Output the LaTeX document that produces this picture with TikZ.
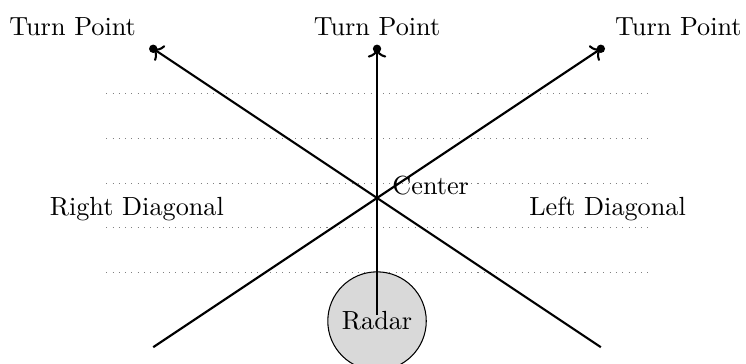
\documentclass[tikz,border=0pt]{standalone}
\usepackage{tikz}
\usetikzlibrary{arrows.meta,positioning,calc}

\begin{document}
\begin{tikzpicture}[thick, dot/.style={circle,fill,inner sep=0pt,minimum size=3.2pt}, guide/.style={dotted,thin,gray}]
  \useasboundingbox (-5.054,-2.225) rectangle (4.946,2.654);
  % range rings
  \foreach \y in {-1,-0.4,0.2,0.8,1.4} \draw[guide] (-3.63,\y) -- (3.63,\y);
  \node (radar) [circle,draw,thin,fill=gray!30,minimum size=1.32cm] at (0,-1.65) {Radar};
  \coordinate (bl) at (-3,-2); \coordinate (br) at (3,-2);
  \coordinate (tl) at (-3,2); \coordinate (tm) at (0,2); \coordinate (tr) at (3,2);
  \draw[->] (bl) -- (tr); \draw[->] (br) -- (tl);
  \draw[->] ($(radar.center)+(0,0.08)$) -- (tm);
  \node (tldot) [dot] at (tl) {}; \node (tmdot) [dot] at (tm) {}; \node (trdot) [dot] at (tr) {};
  \node (tltext) at (-4.08,2.3) {Turn Point};
  \node (tmtext) at (0,2.3) {Turn Point};
  \node (trtext) at (4.04,2.3) {Turn Point};
  \node (ctr) at (0.72,0.17) {Center};
  \node (rdiag) at (-3.22,-0.15) {Right Diagonal};
  \node (ldiag) at (3.09,-0.15) {Left Diagonal};
\end{tikzpicture}
\end{document}
